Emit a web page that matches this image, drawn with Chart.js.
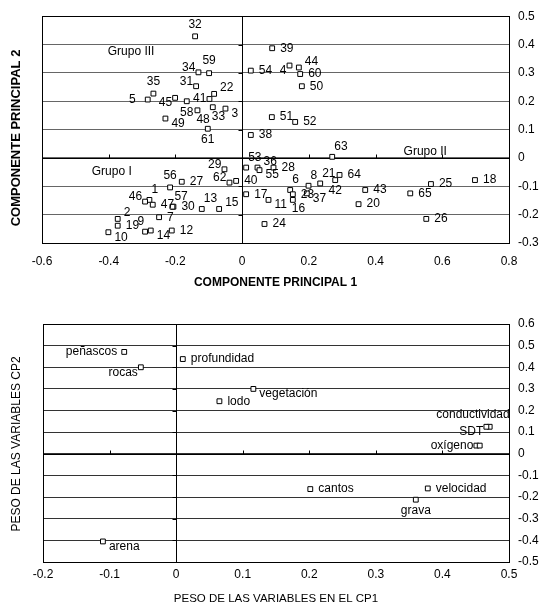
<!DOCTYPE html>
<html>
<head>
<meta charset="utf-8">
<script src="https://cdn.jsdelivr.net/npm/chart.js@4.4.1/dist/chart.umd.min.js"></script>
<style>
  html, body { margin: 0; padding: 0; background: #fff; }
  #wrap { width: 543px; height: 611px; }
  canvas { display: block; }
</style>
</head>
<body>
<div id="wrap">
  <canvas id="cpSitios" width="543" height="300"></canvas>
  <canvas id="cpVariables" width="543" height="311"></canvas>
</div>
<script>
// ---- Site scores on the first two principal components ----
const siteIds = [
  1, 2, 3, 4, 5, 6, 7, 8, 9, 10, 11, 12, 13, 14, 15, 16, 17, 18, 19, 20,
  21, 22, 23, 24, 25, 26, 27, 28, 29, 30, 31, 32, 33, 34, 35, 36, 37, 38, 39, 40,
  41, 42, 43, 44, 45, 46, 47, 48, 49, 50, 51, 52, 53, 54, 55, 56, 57, 58, 59, 60,
  61, 62, 63, 64, 65
];
const siteCP1 = [
  -0.278, -0.373, -0.050, 0.142, -0.283, 0.144, -0.249, 0.199, -0.291, -0.401,
  0.079, -0.211, -0.121, -0.274, -0.069, 0.152, 0.012, 0.698, -0.373, 0.349,
  0.234, -0.084, 0.152, 0.067, 0.566, 0.552, -0.181, 0.094, -0.053, -0.206,
  -0.138, -0.141, -0.088, -0.131, -0.266, 0.046, 0.194, 0.026, 0.090, -0.018,
  -0.098, 0.279, 0.369, 0.170, -0.201, -0.291, -0.268, -0.134, -0.230, 0.179,
  0.089, 0.159, 0.012, 0.026, 0.052, -0.216, -0.209, -0.166, -0.099, 0.174,
  -0.103, -0.038, 0.270, 0.292, 0.504
];
const siteCP2 = [
  -0.148, -0.215, 0.174, 0.326, 0.206, -0.113, -0.209, -0.098, -0.260, -0.262,
  -0.148, -0.256, -0.180, -0.256, -0.180, -0.148, -0.128, -0.078, -0.239, -0.163,
  -0.090, 0.226, -0.128, -0.233, -0.092, -0.215, -0.084, -0.034, -0.040, -0.172,
  0.253, 0.429, 0.179, 0.302, 0.227, -0.034, -0.125, 0.081, 0.387, -0.081,
  0.208, -0.078, -0.113, 0.319, 0.212, -0.154, -0.165, 0.168, 0.139, 0.253,
  0.144, 0.127, -0.034, 0.308, -0.043, -0.104, -0.172, 0.200, 0.299, 0.296,
  0.103, -0.087, 0.004, -0.060, -0.125
];
// where each site number sits around its marker
const siteLabelSide = [
  'tr', 'ur', 'dr', 'dl', 'll', 'tr', 'r', 'tr', 'tl', 'dr',
  'dr', 'r', 'tr', 'dr', 'ur', 'br', 'r', 'r', 'r', 'r',
  'tr', 'ur', 'r', 'r', 'r', 'r', 'r', 'r', 'ul', 'r',
  'ul', 't', 'br', 'ul', 't', 'ur', 'dr', 'r', 'r', 'r',
  'lc', 'b', 'r', 'ur', 'dl', 'ul', 'r', 'br', 'dr', 'r',
  'r', 'r', 'tr', 'r', 'dr', 't', 'tr', 'b', 't', 'r',
  'b', 'ul', 'tr', 'r', 'r'
];
const groupNames = ['Grupo I', 'Grupo II', 'Grupo III'];
const groupCP1 = [-0.391, 0.549, -0.333];
const groupCP2 = [-0.049, 0.021, 0.375];
const sitesXTicks = [-0.6, -0.4, -0.2, 0, 0.2, 0.4, 0.6, 0.8];
const sitesYTicks = [-0.3, -0.2, -0.1, 0, 0.1, 0.2, 0.3, 0.4, 0.5];

// ---- Variable loadings on CP1 / CP2 ----
const variableNames = [
  'peñascos', 'rocas', 'profundidad', 'vegetación', 'lodo', 'conductividad',
  'SDT', 'oxígeno', '', 'cantos', 'velocidad', 'grava', 'arena'
];
const loadCP1 = [-0.078, -0.053, 0.010, 0.116, 0.065, 0.471, 0.466, 0.451, 0.456, 0.2015, 0.378, 0.360, -0.110];
const loadCP2 = [0.471, 0.400, 0.438, 0.300, 0.243, 0.125, 0.125, 0.038, 0.038, -0.163, -0.160, -0.212, -0.405];
const variableLabelSide = ['l', 'dl', 'r', 'dr', 'r', 'tw', 'dl', 'lc', 'r', 'r', 'r', 'b', 'dr'];
const loadXTicks = [-0.2, -0.1, 0, 0.1, 0.2, 0.3, 0.4, 0.5];
const loadYTicks = [-0.5, -0.4, -0.3, -0.2, -0.1, 0, 0.1, 0.2, 0.3, 0.4, 0.5, 0.6];

// ---- drawing helpers ----
const FONT = '"Liberation Sans", Arial, Helvetica, sans-serif';
// label offsets from the marker centre: [dx, dy, textAlign]
const SIDES = {
  r:  [8, 0, 'left'],   ur: [6, -6, 'left'],  dr: [6, 5, 'left'],
  l:  [-7, 0, 'right'], ll: [-12, 0, 'right'], lc: [-3, 0, 'right'],
  ul: [-3, -5, 'right'], dl: [-3, 5, 'right'], tl: [-1, -10, 'right'],
  t:  [0, -12, 'center'], tr: [2, -10, 'left'],
  b:  [0, 11, 'center'], br: [-1, 9, 'left'],
  tw: [20, -12, 'right']
};
const crisp = v => Math.round(v) + 0.5;

const biplotDecor = {
  id: 'biplotDecor',
  beforeDatasetsDraw(chart, args, o) {
    const { ctx, chartArea: a, scales: { x, y } } = chart;
    const x0 = crisp(x.getPixelForValue(0));
    const y0 = crisp(y.getPixelForValue(0));
    ctx.save();
    ctx.strokeStyle = '#000';
    ctx.lineWidth = 1;
    ctx.beginPath();
    ctx.moveTo(a.left, y0); ctx.lineTo(a.right, y0);
    ctx.moveTo(x0, a.top); ctx.lineTo(x0, a.bottom);
    o.xMarks.forEach(v => {
      const px = crisp(x.getPixelForValue(v));
      ctx.moveTo(px, y0); ctx.lineTo(px, y0 - 4);
    });
    o.yMarks.forEach(v => {
      const py = crisp(y.getPixelForValue(v));
      ctx.moveTo(x0, py); ctx.lineTo(x0 - 4, py);
    });
    ctx.stroke();
    ctx.strokeRect(crisp(a.left), crisp(a.top), Math.round(a.right - a.left), Math.round(a.bottom - a.top));
    ctx.restore();
  },
  afterDatasetsDraw(chart, args, o) {
    const { ctx, scales: { x, y } } = chart;
    const pts = chart.getDatasetMeta(0).data;
    ctx.save();
    ctx.fillStyle = '#000';
    ctx.font = '12px ' + FONT;
    ctx.textBaseline = 'middle';
    pts.forEach((p, i) => {
      const text = String(o.labels[i]);
      if (!text) return;
      const [dx, dy, align] = SIDES[o.sides[i]];
      ctx.textAlign = align;
      ctx.fillText(text, p.x + dx, p.y + dy);
    });
    ctx.textAlign = 'center';
    (o.notes || []).forEach(n => {
      ctx.fillText(n.text, x.getPixelForValue(n.x), y.getPixelForValue(n.y));
    });
    ctx.restore();
  },
  afterDraw(chart, args, o) {
    const { ctx } = chart;
    ctx.save();
    ctx.translate(o.yTitle.x, o.yTitle.y);
    ctx.rotate(-Math.PI / 2);
    ctx.fillStyle = '#000';
    ctx.font = o.yTitle.font;
    ctx.textAlign = 'center';
    ctx.textBaseline = 'middle';
    ctx.fillText(o.yTitle.text, 0, 0);
    ctx.restore();
  }
};

function tickSetter(values) {
  return s => { s.ticks = values.map(v => ({ value: v })); };
}

function makeBiplot(canvasId, cfg) {
  const points = cfg.xs.map((v, i) => ({ x: v, y: cfg.ys[i] }));
  return new Chart(document.getElementById(canvasId), {
    type: 'scatter',
    data: {
      datasets: [{
        data: points,
        pointStyle: 'rect',
        pointRadius: 3.4,
        pointHoverRadius: 3.4,
        borderColor: '#000',
        backgroundColor: '#fff',
        borderWidth: 1
      }]
    },
    options: {
      responsive: false,
      animation: false,
      devicePixelRatio: 1,
      events: [],
      layout: { padding: { left: cfg.areaLeft, top: cfg.areaTop, right: 0, bottom: 0 } },
      plugins: {
        legend: { display: false },
        tooltip: { enabled: false },
        biplotDecor: {
          labels: cfg.labels,
          sides: cfg.sides,
          notes: cfg.notes,
          xMarks: cfg.xMarks,
          yMarks: cfg.yMarks,
          yTitle: cfg.yTitle
        }
      },
      scales: {
        x: {
          type: 'linear',
          position: 'bottom',
          min: cfg.xTicks[0],
          max: cfg.xTicks[cfg.xTicks.length - 1],
          afterBuildTicks: tickSetter(cfg.xTicks),
          afterFit: s => { s.height = cfg.xAxisHeight; },
          grid: { display: false, drawTicks: false, tickLength: 0 },
          border: { display: false },
          ticks: {
            color: '#000',
            padding: cfg.xTickPad,
            maxRotation: 0,
            autoSkip: false,
            font: { family: FONT, size: 12 },
            callback: v => String(v)
          },
          title: {
            display: true,
            text: cfg.xTitle,
            color: '#000',
            font: { family: FONT, size: cfg.xTitleSize, weight: cfg.titleWeight },
            padding: { top: 0, bottom: cfg.xTitlePad }
          }
        },
        y: {
          type: 'linear',
          position: 'right',
          min: cfg.yTicks[0],
          max: cfg.yTicks[cfg.yTicks.length - 1],
          afterBuildTicks: tickSetter(cfg.yTicks),
          afterFit: s => { s.width = 34; },
          grid: { color: cfg.gridColor, lineWidth: 1, drawTicks: false, tickLength: 0 },
          border: { display: false },
          ticks: {
            color: '#000',
            padding: 9,
            font: { family: FONT, size: 12 },
            callback: v => String(v)
          }
        }
      }
    },
    plugins: [biplotDecor]
  });
}

makeBiplot('cpSitios', {
  xs: siteCP1, ys: siteCP2,
  labels: siteIds, sides: siteLabelSide,
  notes: groupNames.map((t, i) => ({ text: t, x: groupCP1[i], y: groupCP2[i] })),
  xTicks: sitesXTicks, yTicks: sitesYTicks,
  xMarks: [-0.4, -0.2, 0.2, 0.4, 0.6],
  yMarks: [-0.2, -0.1, 0.1, 0.2, 0.3, 0.4],
  areaLeft: 42, areaTop: 15, xAxisHeight: 57,
  xTickPad: 11.5, xTitlePad: 10,
  gridColor: '#666',
  titleWeight: 'bold',
  xTitleSize: 12,
  xTitle: 'COMPONENTE PRINCIPAL 1',
  yTitle: { text: 'COMPONENTE PRINCIPAL 2', x: 16, y: 138, font: 'bold 13px ' + FONT }
});

makeBiplot('cpVariables', {
  xs: loadCP1, ys: loadCP2,
  labels: variableNames, sides: variableLabelSide,
  notes: [],
  xTicks: loadXTicks, yTicks: loadYTicks,
  xMarks: [-0.1, 0.1, 0.2, 0.3, 0.4],
  yMarks: [-0.4, -0.3, -0.2, -0.1, 0.1, 0.2, 0.3, 0.4, 0.5],
  areaLeft: 43, areaTop: 24, xAxisHeight: 49,
  xTickPad: 5, xTitlePad: 5.5,
  gridColor: '#333',
  titleWeight: 'normal',
  xTitleSize: 11.5,
  xTitle: 'PESO DE LAS VARIABLES EN EL CP1',
  yTitle: { text: 'PESO DE LAS VARIABLES CP2', x: 17, y: 144, font: '12px ' + FONT }
});
</script>
</body>
</html>
